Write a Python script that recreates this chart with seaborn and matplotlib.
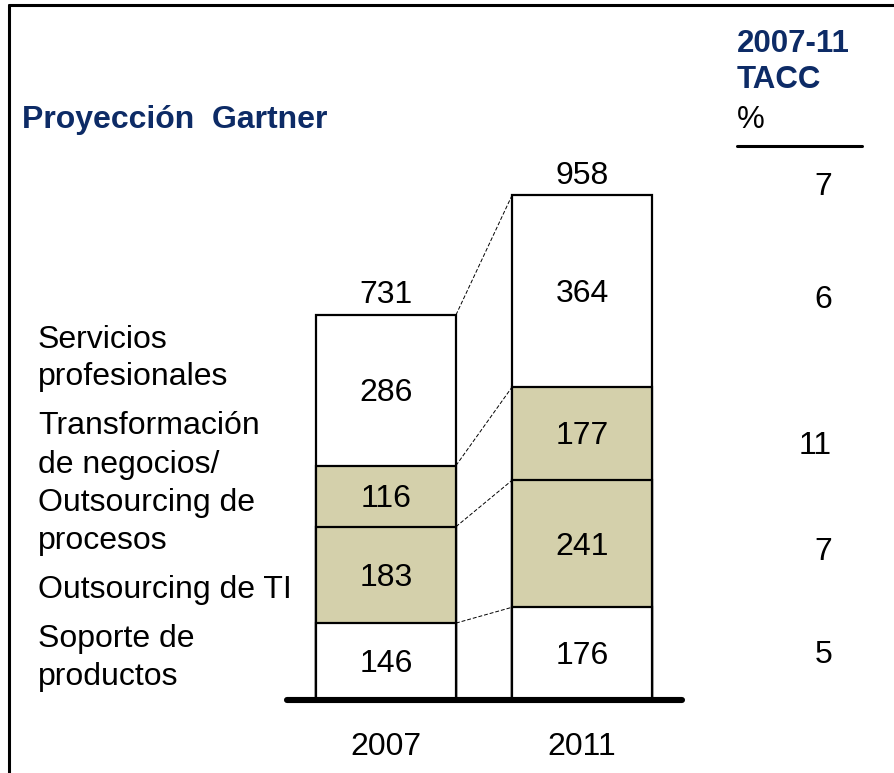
import matplotlib
matplotlib.use("Agg")
import matplotlib.pyplot as plt
from matplotlib.lines import Line2D
import numpy as np
import pandas as pd
import seaborn as sns

# Data (USD bn) by segment, bottom to top
years = ["2007", "2011"]
soporte = [146, 176]
outsourcing_ti = [183, 241]
transformacion = [116, 177]
servicios = [286, 364]
totales = [731, 958]
tacc = ["7", "6", "11", "7", "5"]

segment_labels = [
    "Servicios\nprofesionales",
    "Transformación\nde negocios/\nOutsourcing de\nprocesos",
    "Outsourcing de TI",
    "Soporte de\nproductos",
]

BEIGE = "#D4D0AB"
NAVY = "#0D2B66"
FONT = "Liberation Sans"

sns.set_theme(style="white")
plt.rcParams["font.family"] = [FONT, "DejaVu Sans"]

W, H = 894, 773
fig = plt.figure(figsize=(W / 100, H / 100), dpi=100)

def fx(px):
    return px / W

def fy(py):
    return 1 - py / H

# Axes placed so the baseline sits near the bottom of the panel
ax_left, ax_right, ax_bottom, ax_top = 287, 682, 700, 150
ax = fig.add_axes([fx(ax_left), fy(ax_bottom), fx(ax_right - ax_left), (ax_bottom - ax_top) / H])

layers = pd.DataFrame({
    "year": years,
    "l1": soporte,
    "l2": np.add(soporte, outsourcing_ti),
    "l3": np.add(np.add(soporte, outsourcing_ti), transformacion),
    "l4": np.add(np.add(np.add(soporte, outsourcing_ti), transformacion), servicios),
})

bar_w = 0.714
# Stack by overdrawing cumulative bars, tallest first
for col, colr in [("l4", "white"), ("l3", BEIGE), ("l2", BEIGE), ("l1", "white")]:
    sns.barplot(data=layers, x="year", y=col, color=colr, saturation=1,
                edgecolor="black", linewidth=1.6, width=bar_w, ax=ax, zorder=2)

ax.set_xlim(-0.505, 1.51)
ax.set_ylim(0, 1044)
ax.set_xlabel("")
ax.set_ylabel("")
ax.set_yticks([])
for s in ["left", "right", "top"]:
    ax.spines[s].set_visible(False)
ax.spines["bottom"].set_linewidth(4.4)
ax.spines["bottom"].set_color("black")
ax.spines["bottom"].set_capstyle("round")
ax.spines["bottom"].set_zorder(5)
ax.tick_params(axis="x", length=0, pad=23, labelsize=23)
ax.set_xticks([0, 1])
ax.set_xticklabels(years, fontsize=23, color="black")
ax.patch.set_alpha(0)

# Segment value labels
segs = [soporte, outsourcing_ti, transformacion, servicios]
for i in range(len(years)):
    base = 0
    for seg in segs:
        v = seg[i]
        ax.annotate(str(v), (i, base + v / 2), xytext=(0, -2), textcoords="offset points",
                    ha="center", va="center", fontsize=23, color="black", zorder=6)
        base += v
    ax.annotate(str(totales[i]), (i, totales[i]), xytext=(0, 14), textcoords="offset points",
                ha="center", va="center", fontsize=23, color="black")

# Dashed connectors between matching segment boundaries
bounds = ["l1", "l2", "l3", "l4"]
for b in bounds:
    ax.plot([0 + bar_w / 2, 1 - bar_w / 2], [layers[b][0], layers[b][1]],
            color="black", linestyle=(0, (4, 2)), linewidth=0.7, zorder=1)

# Title and growth column
fig.text(fx(22), fy(120), "Proyección  Gartner", fontsize=23, fontweight="bold",
         color=NAVY, ha="left", va="center")
fig.text(fx(737), fy(44), "2007-11", fontsize=22.5, fontweight="bold", color=NAVY, ha="left", va="center")
fig.text(fx(737), fy(80), "TACC", fontsize=22.5, fontweight="bold", color=NAVY, ha="left", va="center")
fig.text(fx(737), fy(120), "%", fontsize=22.5, color="black", ha="left", va="center")
fig.add_artist(Line2D([fx(737), fx(862)], [fy(146), fy(146)], color="black", linewidth=2.2))

tacc_y = [187, 300, 446, 552, 655]
for val, py in zip(tacc, tacc_y):
    fig.text(fx(832), fy(py), val, fontsize=23, color="black", ha="right", va="center")

# Segment names on the left
label_y = [[340, 377], [426, 465, 503, 541], [590], [639, 677]]
for text, ys in zip(segment_labels, label_y):
    for line, py in zip(text.split("\n"), ys):
        fig.text(fx(38), fy(py), line, fontsize=23, color="black", ha="left", va="center")

# Panel frame (top and left edges)
fig.add_artist(Line2D([fx(9), 1], [fy(5), fy(5)], color="black", linewidth=2.2))
fig.add_artist(Line2D([fx(9), fx(9)], [fy(5), 0], color="black", linewidth=2.2))

fig.savefig("out.png", dpi=100, facecolor="white")
